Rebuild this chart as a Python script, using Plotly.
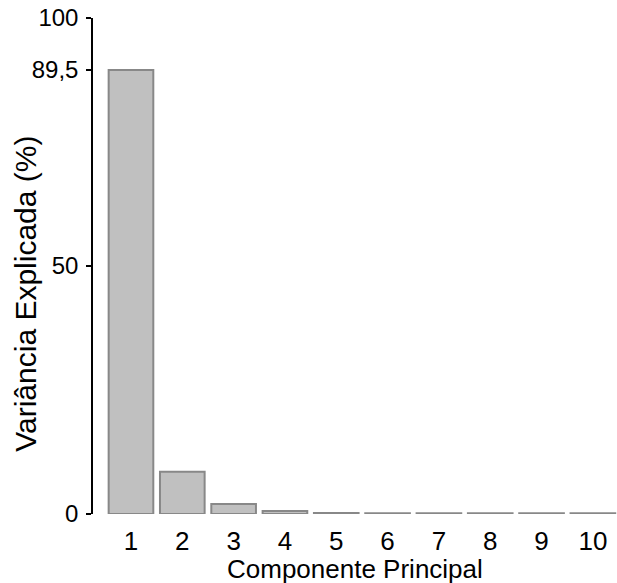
import plotly.graph_objects as go

components = ["1", "2", "3", "4", "5", "6", "7", "8", "9", "10"]
variance = [89.5, 8.5, 2.0, 0.6, 0.2, 0.15, 0.15, 0.15, 0.15, 0.15]
ytick_vals = [0, 50, 89.5, 100]
ytick_text = ["0", "50", "89,5", "100"]

fig = go.Figure(go.Bar(
    x=components, y=variance,
    marker=dict(color="#c0c0c0", line=dict(color="#888888", width=2)),
    width=0.87,
))
fig.update_layout(
    width=617, height=583,
    margin=dict(l=93, r=0, t=18, b=69, autoexpand=False),
    plot_bgcolor="white", paper_bgcolor="white",
    font=dict(family="Liberation Sans, Arial, sans-serif", color="black"),
    showlegend=False,
    annotations=[
        dict(text="Variância Explicada (%)", textangle=-90,
             xref="paper", yref="paper", x=0, y=0.444, xanchor="center", yanchor="middle",
             xshift=-67, showarrow=False, font=dict(size=30)),
        dict(text="Componente Principal",
             xref="paper", yref="paper", x=0.5, y=0, xanchor="center", yanchor="middle",
             yshift=-55, showarrow=False, font=dict(size=26)),
    ],
)
fig.update_xaxes(
    type="category", range=[-0.74, 9.47], automargin=False,
    showline=False, showgrid=False, ticks="outside", ticklen=4, tickcolor="rgba(0,0,0,0)",
    tickfont=dict(size=26),
)
fig.update_yaxes(
    range=[0, 100], tickmode="array", tickvals=ytick_vals, ticktext=ytick_text,
    automargin=False,
    showline=True, linecolor="black", linewidth=1.5,
    ticks="outside", ticklen=5, tickcolor="black", tickwidth=1.5,
    showgrid=False, zeroline=False,
    tickfont=dict(size=24), ticklabelstandoff=3,
)
fig.write_html("out.html", config={"displayModeBar": False},
               post_script="document.body.style.margin='0';")
